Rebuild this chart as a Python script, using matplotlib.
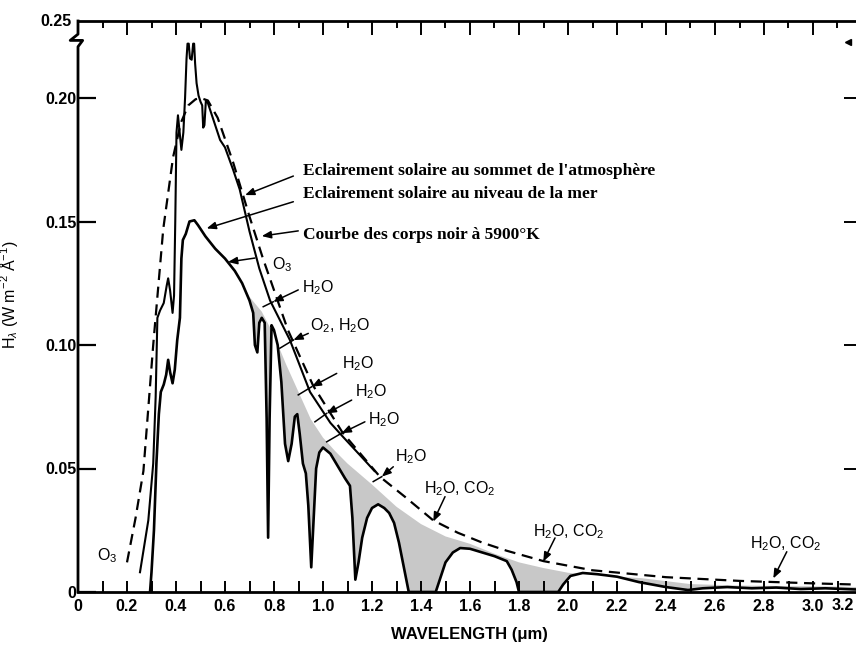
import numpy as np
import matplotlib
matplotlib.use("Agg")
import matplotlib.pyplot as plt
from matplotlib.ticker import MultipleLocator, NullFormatter

# values (wavelength in um, H_lambda in W m-2 A-1)
bb_x = [0.20, 0.235, 0.267, 0.307, 0.348, 0.388, 0.42, 0.45, 0.48, 0.50, 0.53, 0.57,
        0.633, 0.70, 0.755, 0.857, 0.96, 1.08, 1.233, 1.335, 1.45, 1.55, 1.65, 1.75,
        1.90, 2.10, 2.40, 2.70, 3.00, 3.18]
bb_y = [0.012, 0.030, 0.049, 0.100, 0.147, 0.176, 0.190, 0.197, 0.1995, 0.200, 0.199, 0.192,
        0.174, 0.152, 0.135, 0.106, 0.0835, 0.0645, 0.0466, 0.0385, 0.029, 0.024, 0.020, 0.0167,
        0.0125, 0.0088, 0.0060, 0.0045, 0.0035, 0.003]

toa_x = [0.253, 0.287, 0.307, 0.317, 0.324, 0.335, 0.350, 0.362, 0.368, 0.376, 0.386, 0.392,
         0.397, 0.402, 0.408, 0.415, 0.422, 0.43, 0.437, 0.443, 0.447, 0.452, 0.457, 0.464,
         0.470, 0.474, 0.478, 0.484, 0.492, 0.50, 0.507, 0.511, 0.516, 0.522, 0.53, 0.55,
         0.58, 0.60, 0.633, 0.66, 0.70, 0.74, 0.784, 0.865, 0.947, 1.03, 1.08, 1.15, 1.21]
toa_y = [0.008, 0.029, 0.052, 0.079, 0.111, 0.114, 0.117, 0.124, 0.127, 0.122, 0.113, 0.120,
         0.150, 0.186, 0.193, 0.186, 0.179, 0.186, 0.200, 0.216, 0.222, 0.222, 0.216, 0.2155,
         0.222, 0.222, 0.214, 0.206, 0.201, 0.1985, 0.197, 0.188, 0.189, 0.199, 0.198, 0.192,
         0.183, 0.180, 0.171, 0.163, 0.146, 0.131, 0.118, 0.102, 0.081, 0.0685, 0.063, 0.0555, 0.049]

sea_x = [0.294, 0.30, 0.31, 0.32, 0.33, 0.338, 0.35, 0.36, 0.368, 0.376, 0.386, 0.395,
         0.405, 0.416, 0.422, 0.428, 0.44, 0.455, 0.475, 0.49, 0.52, 0.56, 0.60, 0.64,
         0.67, 0.70, 0.715, 0.722, 0.732, 0.74, 0.75, 0.762, 0.770, 0.776, 0.782, 0.79,
         0.80, 0.815, 0.83, 0.845, 0.858, 0.872, 0.885, 0.895, 0.905, 0.918, 0.93, 0.94,
         0.952, 0.962, 0.972, 0.985, 1.0, 1.03, 1.06, 1.09, 1.11, 1.12, 1.132, 1.145,
         1.16, 1.18, 1.20, 1.225, 1.25, 1.27, 1.29, 1.31, 1.33, 1.35, 1.46, 1.48,
         1.50, 1.53, 1.56, 1.60, 1.65, 1.70, 1.75, 1.77, 1.79, 1.80, 1.96, 1.98,
         2.01, 2.06, 2.12, 2.20, 2.29, 2.40, 2.49, 2.55, 2.65, 2.75, 2.85, 2.95, 3.05, 3.18]
sea_y = [0.0, 0.008, 0.025, 0.052, 0.072, 0.081, 0.084, 0.088, 0.094, 0.089, 0.0845, 0.090,
         0.102, 0.111, 0.135, 0.1425, 0.145, 0.150, 0.1505, 0.1485, 0.144, 0.139, 0.135, 0.130,
         0.125, 0.118, 0.113, 0.100, 0.097, 0.109, 0.111, 0.109, 0.07, 0.022, 0.07, 0.108,
         0.106, 0.100, 0.085, 0.060, 0.053, 0.060, 0.071, 0.072, 0.064, 0.052, 0.048, 0.035,
         0.010, 0.03, 0.050, 0.0565, 0.0585, 0.056, 0.051, 0.046, 0.043, 0.030, 0.005, 0.012,
         0.022, 0.030, 0.034, 0.0355, 0.034, 0.032, 0.028, 0.020, 0.010, 0.0, 0.0, 0.006,
         0.012, 0.016, 0.0178, 0.0175, 0.016, 0.0145, 0.0125, 0.009, 0.004, 0.0, 0.0, 0.003,
         0.0065, 0.0077, 0.0072, 0.0062, 0.004, 0.002, 0.0008, 0.0015, 0.002, 0.0015, 0.0018, 0.0012, 0.0015, 0.001]

# upper edge of the grey absorption area
gray_x = [0.665, 0.70, 0.75, 0.80, 0.85, 0.90, 0.95, 1.00, 1.05, 1.10, 1.20, 1.30, 1.40,
          1.50, 1.55, 1.60, 1.70, 1.80, 1.90, 2.00, 2.10, 2.30, 2.50, 2.70, 2.90, 3.10, 3.18]
gray_y = [0.126, 0.1195, 0.1135, 0.104, 0.092, 0.081, 0.070, 0.0625, 0.057, 0.052, 0.0435,
          0.0345, 0.0275, 0.0225, 0.021, 0.0195, 0.0155, 0.012, 0.0097, 0.0078, 0.0068,
          0.0056, 0.0032, 0.0026, 0.0024, 0.0022, 0.0020]

x_ticks = [0, 0.2, 0.4, 0.6, 0.8, 1.0, 1.2, 1.4, 1.6, 1.8, 2.0, 2.2, 2.4, 2.6, 2.8, 3.0]
x_labels = ['0', '0.2', '0.4', '0.6', '0.8', '1.0', '1.2', '1.4', '1.6', '1.8', '2.0',
            '2.2', '2.4', '2.6', '2.8', '3.0']
y_ticks = [0, 0.05, 0.10, 0.15, 0.20]
y_labels = ['0', '0.05', '0.10', '0.15', '0.20']

# absorption labels: (text, label pos, arrow tail, arrow head, line end)
gas_notes = [
    ('O$_3$', (0.79, 0.1324), (0.722, 0.1352), (0.612, 0.1336), None),
    ('H$_2$O', (0.914, 0.1231), (0.899, 0.1223), (0.797, 0.1175), (0.756, 0.1155)),
    ('O$_2$, H$_2$O', (0.947, 0.1077), (0.940, 0.1047), (0.879, 0.1020), (0.824, 0.0987)),
    ('H$_2$O', (1.078, 0.0923), (1.056, 0.0885), (0.954, 0.0831), (0.899, 0.0798)),
    ('H$_2$O', (1.131, 0.0810), (1.117, 0.0777), (1.015, 0.0723), (0.967, 0.0689)),
    ('H$_2$O', (1.184, 0.0696), (1.171, 0.0689), (1.076, 0.0643), (1.015, 0.0608)),
    ('H$_2$O', (1.294, 0.0547), (1.287, 0.0507), (1.240, 0.0467), (1.205, 0.0447)),
    ('H$_2$O, CO$_2$', (1.412, 0.0417), (1.498, 0.0386), (1.450, 0.0285), None),
    ('H$_2$O, CO$_2$', (1.857, 0.0243), (1.947, 0.0219), (1.899, 0.0123), None),
    ('H$_2$O, CO$_2$', (2.743, 0.0194), (2.893, 0.0163), (2.838, 0.0055), None),
]

curve_notes = [
    ("Eclairement solaire au sommet de l'atmosphère", (0.918, 0.1704), (0.879, 0.1684), (0.682, 0.1607)),
    ("Eclairement solaire au niveau de la mer", (0.918, 0.1612), (0.879, 0.1580), (0.525, 0.1472)),
    ("Courbe des corps noir à 5900°K", (0.918, 0.1445), (0.899, 0.1462), (0.750, 0.1441)),
]

plt.rcParams['font.family'] = ['Liberation Sans', 'DejaVu Sans']
plt.rcParams['mathtext.fontset'] = 'custom'
plt.rcParams['mathtext.rm'] = 'Liberation Sans'
plt.rcParams['mathtext.it'] = 'Liberation Sans:italic'
plt.rcParams['mathtext.bf'] = 'Liberation Sans:bold'

fig = plt.figure(figsize=(8.56, 6.45), dpi=100)
ax = fig.add_axes([78 / 856, 53 / 645, 778 / 856, 571 / 645])
ax.set_xlim(0, 778 / 245)
ax.set_ylim(0, 571 / 2470)

# grey absorption band area
grid = np.linspace(gray_x[0], gray_x[-1], 6000)
s = np.interp(grid, sea_x, sea_y)
g = np.interp(grid, gray_x, gray_y)
ax.fill_between(grid, s, g, where=g > s, interpolate=True, color='#c8c8c8', lw=0)

ax.plot(bb_x, bb_y, color='k', lw=1.6, ls=(0, (5, 3)))
ax.plot(toa_x, toa_y, color='k', lw=1.5)
ax.plot(sea_x, sea_y, color='k', lw=1.9)

arrow_props = dict(arrowstyle='-|>,head_length=0.55,head_width=0.22', color='k', lw=1.1,
                   shrinkA=0, shrinkB=0)
for text, pos, tail, head, end in gas_notes:
    ax.text(pos[0], pos[1], text, fontsize=11.5, ha='left', va='center')
    ax.annotate('', xy=head, xytext=tail, arrowprops=arrow_props)
    if end is not None:
        ax.plot([head[0], end[0]], [head[1], end[1]], color='k', lw=1.1)

for text, pos, tail, head in curve_notes:
    ax.text(pos[0], pos[1], text, fontsize=12.5, fontweight='bold', family='Liberation Serif',
            ha='left', va='center')
    ax.annotate('', xy=head, xytext=tail, arrowprops=arrow_props)

ax.text(0.078, 0.0146, 'O$_3$', fontsize=11.5, ha='left', va='center')

# axes styling
for side in ['top', 'right', 'left']:
    ax.spines[side].set_visible(False)
ax.spines['bottom'].set_linewidth(2)

ax.set_xticks(x_ticks, x_labels)
ax.xaxis.set_minor_locator(MultipleLocator(0.1))
ax.tick_params(axis='x', which='both', direction='in', length=8, width=1.4, pad=5,
               labelsize=11.5)
ax.set_yticks(y_ticks, y_labels)
ax.tick_params(axis='y', direction='in', length=13, width=1.6, pad=1, labelsize=11.5)
for lab in ax.get_xticklabels() + ax.get_yticklabels():
    lab.set_fontweight('bold')
ax.text(3.168, -0.024, '3.2', fontsize=11.5, fontweight='bold', ha='right', va='center',
        transform=ax.get_xaxis_transform())

top = ax.secondary_xaxis('top')
top.set_xticks(np.arange(0, 3.3, 0.2))
top.xaxis.set_major_formatter(NullFormatter())
top.xaxis.set_minor_locator(MultipleLocator(0.1))
top.tick_params(which='major', direction='in', length=10, width=1.4)
top.tick_params(which='minor', direction='in', length=5, width=1.4)
top.spines['top'].set_linewidth(2)

right = ax.secondary_yaxis('right')
right.set_yticks([0.05, 0.10, 0.15, 0.20])
right.yaxis.set_major_formatter(NullFormatter())
right.tick_params(direction='in', length=9, width=1.4)
right.spines['right'].set_visible(False)

# left axis with the break mark near the top
ax.plot([0, 0, -0.010, 0.006, 0, 0], [1.0, 0.977, 0.966, 0.966, 0.955, 0.0],
        transform=ax.transAxes, color='k', lw=2, clip_on=False)
ax.text(-0.008, 1.0, '0.25', transform=ax.transAxes, ha='right', va='center',
        fontsize=11.5, fontweight='bold')
ax.plot([0.99], [0.963], marker='<', color='k', markersize=5, transform=ax.transAxes,
        clip_on=False)

ax.set_xlabel('WAVELENGTH (μm)', fontsize=12, fontweight='bold')
ax.xaxis.set_label_coords(0.503, -0.062)
ax.set_ylabel(r'H$_\lambda$ (W m$^{-2}$ Å$^{-1}$)', fontsize=11.5)
ax.yaxis.set_label_coords(-0.074, 0.52)

fig.savefig('out.png', dpi=100)
plt.close(fig)
